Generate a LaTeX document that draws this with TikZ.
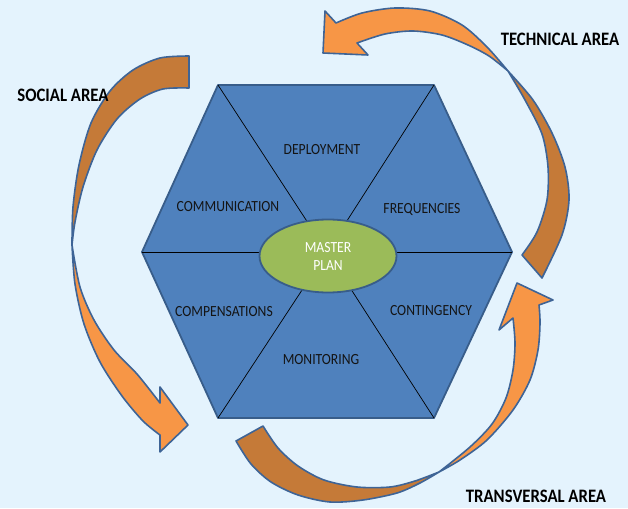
\documentclass[tikz,border=0pt]{standalone}
\usepackage{fontspec}
\usetikzlibrary{shapes.geometric}
\setmainfont{Carlito}
\newfontfamily\lblfont{Carlito}[FakeStretch=0.88]
\definecolor{bgcol}{RGB}{228,243,253}
\definecolor{hexfill}{RGB}{79,129,189}
\definecolor{hexline}{RGB}{56,93,138}
\definecolor{ellfill}{RGB}{155,187,89}
\definecolor{orL}{RGB}{247,150,70}
\definecolor{orD}{RGB}{197,122,56}
\definecolor{outl}{RGB}{62,100,150}
\begin{document}
\begin{tikzpicture}[x=1pt,y=-1pt,
  lightarr/.style={fill=orL,draw=outl,line width=1.6pt,line join=round},
  darkarr/.style={fill=orD,draw=outl,line width=1.6pt,line join=round},
  lbl/.style={font=\lblfont\fontsize{15.5}{18}\selectfont,text=black!92,inner sep=0pt},
  ttl/.style={font=\lblfont\bfseries\fontsize{19}{22}\selectfont,text=black,inner sep=0pt},
  spoke/.style={draw=black,line width=0.7pt},
  sm/.style={smooth,tension=0.5}]
\useasboundingbox (0,0) rectangle (628,508);
\fill[bgcol] (0,0) rectangle (628,508);

% ---- social arrow
\path[darkarr] (189,56) -- plot[sm] coordinates {(189,56) (160,58) (133,70) (110,91) (91,123) (79,165) (73,207) (72,245)}
  -- plot[sm] coordinates {(72,245) (75,222) (83,187) (97,150) (117,119) (140,99) (163,89) (189,88)} -- cycle;
\path[lightarr] (72,245) -- plot[sm] coordinates {(72,245) (75,284) (84,324) (100,362) (122,396) (143,421) (160,435)}
  -- (160,452) -- (188,425) -- (160,387) -- (160,403)
  -- plot[sm] coordinates {(160,403) (137,374) (114,350) (94,320) (80,287) (72,245)} -- cycle;

% ---- transversal arrow
\path[darkarr] (236,441) -- plot[sm] coordinates {(236,441) (251,464) (271,482) (298,495) (330,502) (363,500) (397,493) (420,483) (439,472)}
  -- plot[sm] coordinates {(439,472) (415,481) (390,487) (357,487) (324,480) (298,466) (278,448) (263,426)} -- cycle;
\path[lightarr] (439,472) -- plot[sm] coordinates {(439,472) (460,460) (487,440) (513,410) (530,380) (538,350) (540,323) (539,305)}
  -- (553,300) -- (517,283) -- (499,330) -- (513,318)
  -- plot[sm] coordinates {(513,318) (515,343) (513,370) (506,398) (492,424) (470,447) (439,472)} -- cycle;

% ---- technical arrow
\path[darkarr] (508,71) -- plot[sm] coordinates {(508,71) (533,100) (552,133) (565,167) (569,200) (562,235) (542,278)}
  -- (522,255)
  -- plot[sm] coordinates {(522,255) (537,232) (547,200) (548,167) (542,134) (525,100) (508,71)} -- cycle;
\path[lightarr] (325,11) -- (336,23) -- plot[sm] coordinates {(336,23) (362,13) (395,8) (430,11) (462,25) (487,47) (508,71)}
  -- plot[sm] coordinates {(508,71) (489,56) (468,45) (442,35) (413,31) (385,34) (357,43)}
  -- (368,55) -- (323,53) -- cycle;

% ---- hexagon
\coordinate (tl) at (218,85);
\coordinate (tr) at (434,85);
\coordinate (r) at (512,252);
\coordinate (br) at (434,418);
\coordinate (bl) at (218,418);
\coordinate (l) at (142,252);
\coordinate (c) at (327,252);
\filldraw[fill=hexfill,draw=hexline,line width=1.8pt,line join=round] (tl) -- (tr) -- (r) -- (br) -- (bl) -- (l) -- cycle;
\foreach \v in {tl,tr,r,br,bl,l} \draw[spoke] (\v) -- (c);

\node[ellipse,minimum width=137pt,minimum height=73pt,fill=ellfill,draw=hexline,line width=1.8pt,
  text=white,align=center,font=\lblfont\fontsize{15.5}{18}\selectfont,inner sep=0pt] (master) at (328,256) {MASTER\\PLAN};

\node[lbl] (dep) at (322,150) {DEPLOYMENT};
\node[lbl] (com) at (228,207) {COMMUNICATION};
\node[lbl] (fre) at (422,209) {FREQUENCIES};
\node[lbl] (cmp) at (224,312) {COMPENSATIONS};
\node[lbl] (con) at (431,311) {CONTINGENCY};
\node[lbl] (mon) at (321,360) {MONITORING};

\node[ttl] (tech) at (560,39) {TECHNICAL AREA};
\node[ttl] (soc) at (63,95) {SOCIAL AREA};
\node[ttl] (trans) at (536,496) {TRANSVERSAL AREA};
\end{tikzpicture}
\end{document}
